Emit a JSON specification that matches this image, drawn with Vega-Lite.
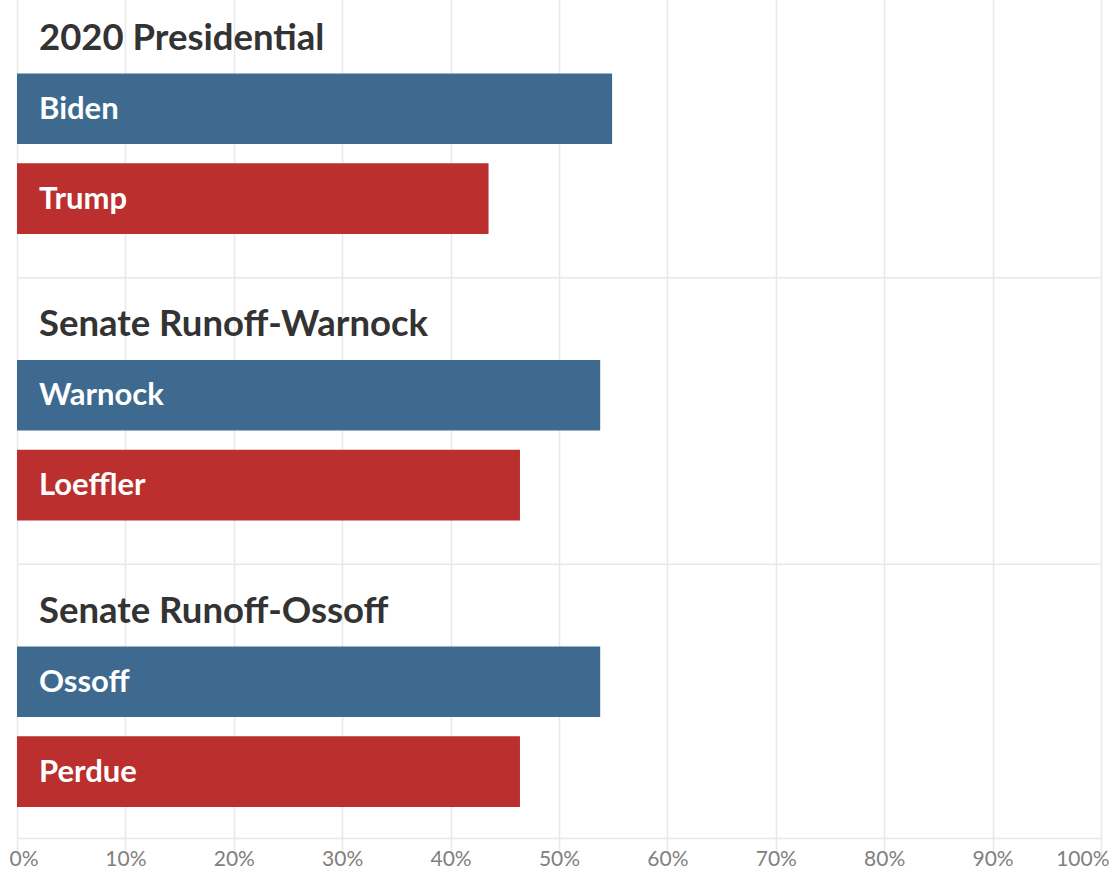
{
  "$schema": "https://vega.github.io/schema/vega-lite/v6.json",
  "width": 1084,
  "height": 829,
  "autosize": {"type": "none"},
  "padding": {"left": 17, "top": 9, "right": 11, "bottom": 33},
  "background": "white",
  "config": {"view": {"stroke": null}, "font": "Lato"},
  "datasets": {
    "votes": [
      {"group": "2020 Presidential", "candidate": "Biden", "party": "D", "pct": 54.9},
      {"group": "2020 Presidential", "candidate": "Trump", "party": "R", "pct": 43.5},
      {"group": "Senate Runoff-Warnock", "candidate": "Warnock", "party": "D", "pct": 53.8},
      {"group": "Senate Runoff-Warnock", "candidate": "Loeffler", "party": "R", "pct": 46.4},
      {"group": "Senate Runoff-Ossoff", "candidate": "Ossoff", "party": "D", "pct": 53.8},
      {"group": "Senate Runoff-Ossoff", "candidate": "Perdue", "party": "R", "pct": 46.4}
    ],
    "groups": [
      {"group": "2020 Presidential"},
      {"group": "Senate Runoff-Warnock"},
      {"group": "Senate Runoff-Ossoff"}
    ]
  },
  "layer": [
    {
      "data": {"name": "votes"},
      "mark": {"type": "bar"},
      "encoding": {
        "y": {
          "field": "group",
          "type": "nominal",
          "scale": {
            "domain": ["2020 Presidential", "Senate Runoff-Warnock", "Senate Runoff-Ossoff"],
            "range": [-17.75, 841.75],
            "paddingInner": 0,
            "paddingOuter": 0
          },
          "axis": null
        },
        "yOffset": {
          "field": "party",
          "type": "nominal",
          "scale": {"domain": ["D", "R"], "range": [82.2, 242.7], "paddingInner": 0.2147, "paddingOuter": 0}
        },
        "x": {
          "field": "pct",
          "type": "quantitative",
          "scale": {"domain": [0, 100], "nice": false},
          "axis": {
            "values": [0, 10, 20, 30, 40, 50, 60, 70, 80, 90, 100],
            "labelExpr": "datum.value + '%'",
            "title": null,
            "grid": true,
            "gridColor": "#e8e8e8",
            "gridWidth": 1.5,
            "domainColor": "#e8e8e8",
            "domainWidth": 1.5,
            "ticks": false,
            "labelPadding": 10,
            "labelFontSize": 21,
            "labelColor": "#808080",
            "labelFont": "Lato",
            "labelFlush": true,
            "labelFlushOffset": 8,
            "labelOverlap": false
          }
        },
        "color": {
          "field": "party",
          "type": "nominal",
          "scale": {"domain": ["D", "R"], "range": ["#3e6a90", "#bb2f2e"]},
          "legend": null
        }
      }
    },
    {
      "data": {"name": "groups"},
      "transform": [{"filter": "datum.group !== '2020 Presidential'"}],
      "mark": {"type": "rule", "color": "#e8e8e8", "strokeWidth": 1.5},
      "encoding": {
        "y": {"field": "group", "type": "nominal", "bandPosition": 0}
      }
    },
    {
      "data": {"name": "groups"},
      "mark": {
        "type": "text",
        "align": "left",
        "baseline": "alphabetic",
        "dx": 22,
        "font": "Lato",
        "fontWeight": "bold",
        "fontSize": 36.5,
        "color": "#333333"
      },
      "encoding": {
        "y": {"field": "group", "type": "nominal", "bandPosition": 0.2038},
        "x": {"datum": 0, "type": "quantitative"},
        "text": {"field": "group"}
      }
    },
    {
      "data": {"name": "votes"},
      "mark": {
        "type": "text",
        "align": "left",
        "baseline": "alphabetic",
        "dx": 22,
        "dy": 10,
        "font": "Lato",
        "fontWeight": "bold",
        "fontSize": 31,
        "color": "#ffffff"
      },
      "encoding": {
        "y": {"field": "group", "type": "nominal"},
        "yOffset": {"field": "party", "type": "nominal"},
        "x": {"datum": 0, "type": "quantitative"},
        "text": {"field": "candidate"}
      }
    }
  ]
}
